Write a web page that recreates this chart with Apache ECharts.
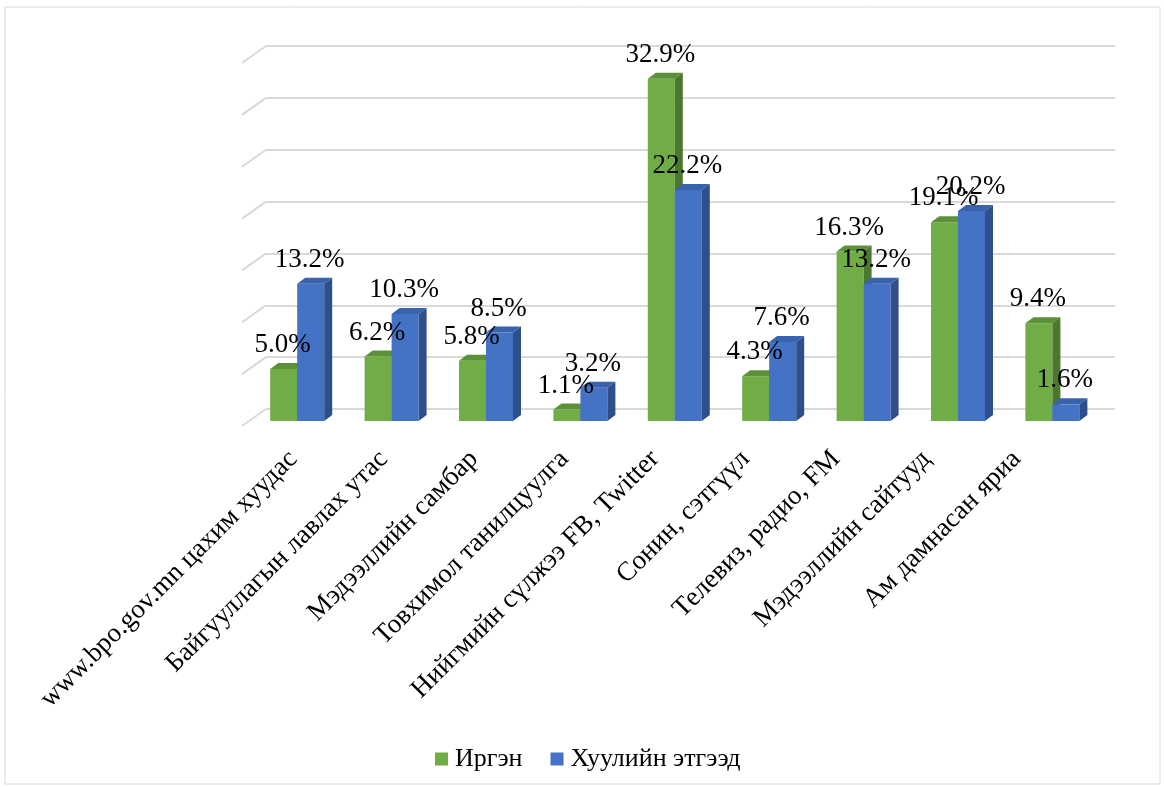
<!DOCTYPE html>
<html>
<head>
<meta charset="utf-8">
<script src="https://cdn.jsdelivr.net/npm/echarts@6/dist/echarts.min.js"></script>
<style>
  html, body { margin: 0; padding: 0; background: #fff; }
  #chart { width: 1164px; height: 787px; }
</style>
</head>
<body>
<div id="chart"></div>
<script>
// Information sources, share of respondents (%)
const categories = [
  'www.bpo.gov.mn цахим хуудас',
  'Байгууллагын лавлах утас',
  'Мэдээллийн самбар',
  'Товхимол танилцуулга',
  'Нийгмийн сүлжээ FB, Twitter',
  'Сонин, сэтгүүл',
  'Телевиз, радио, FM',
  'Мэдээллийн сайтууд',
  'Ам дамнасан яриа'
];
const seriesNames = ['Иргэн', 'Хуулийн этгээд'];
const citizen = [5.0, 6.2, 5.8, 1.1, 32.9, 4.3, 16.3, 19.1, 9.4];
const legalEntity = [13.2, 10.3, 8.5, 3.2, 22.2, 7.6, 13.2, 20.2, 1.6];
const wallTicks = [0, 5, 10, 15, 20, 25, 30, 35];

const SERIF = '"Liberation Serif", "Times New Roman", serif';
const DEPTH_X = 8, DEPTH_Y = 6;

const palette = {
  green: { front: '#70ad47', top: '#5d9139', side: '#4b772e' },
  blue:  { front: '#4472c4', top: '#3962ad', side: '#2e4f8c' }
};

function barGeom(api, side) {
  const idx = api.value(0);
  const v = api.value(1);
  const base = api.coord([idx, 0]);
  const top = api.coord([idx, v]);
  const band = api.size([1, 0])[0];
  const w = band * 0.286;
  const x0 = side === 0 ? base[0] - w : base[0];
  return { x0: x0, x1: x0 + w, yb: base[1], yt: top[1], v: v };
}

function barRenderer(side, c) {
  return function (params, api) {
    const g = barGeom(api, side);
    return {
      type: 'group',
      children: [
        { type: 'rect', shape: { x: g.x0, y: g.yt, width: g.x1 - g.x0, height: g.yb - g.yt },
          style: { fill: c.front } },
        { type: 'polygon', shape: { points: [[g.x0, g.yt], [g.x0 + DEPTH_X, g.yt - DEPTH_Y],
            [g.x1 + DEPTH_X, g.yt - DEPTH_Y], [g.x1, g.yt]] }, style: { fill: c.top } },
        { type: 'polygon', shape: { points: [[g.x1, g.yt], [g.x1 + DEPTH_X, g.yt - DEPTH_Y],
            [g.x1 + DEPTH_X, g.yb - DEPTH_Y], [g.x1, g.yb]] }, style: { fill: c.side } }
      ]
    };
  };
}

function labelRenderer(side) {
  return function (params, api) {
    const g = barGeom(api, side);
    return {
      type: 'text',
      style: {
        text: g.v.toFixed(1) + '%',
        x: (g.x0 + g.x1) / 2 - 1, y: g.yt - 24,
        align: 'center', verticalAlign: 'middle',
        font: '27px ' + SERIF, fill: '#000'
      }
    };
  };
}

const toData = arr => arr.map((v, i) => [i, v]);

const chart = echarts.init(document.getElementById('chart'), null, { renderer: 'canvas' });

chart.setOption({
  backgroundColor: '#fff',
  animation: false,
  graphic: [{
    type: 'rect', shape: { x: 5, y: 7, width: 1155, height: 777 },
    style: { fill: 'none', stroke: '#d9d9d9', lineWidth: 1 }, silent: true, z: 0
  }],
  legend: {
    data: seriesNames,
    left: 435, top: 746, padding: 0,
    icon: 'rect', itemWidth: 13, itemHeight: 13, itemGap: 28,
    textStyle: { fontFamily: SERIF, fontSize: 26, color: '#000', padding: [0, 0, 0, 2] }
  },
  grid: [
    // back wall
    { left: 266, right: 49, top: 46, height: 363 },
    // front plane of the bars
    { left: 250, right: 64.4, top: 57, height: 364 },
    // category labels along the floor edge
    { left: 248, right: 102, top: 57, height: 364 }
  ],
  xAxis: [
    { gridIndex: 0, type: 'value', min: 0, max: 1, show: false },
    { gridIndex: 1, type: 'category', data: categories, show: false },
    { gridIndex: 2, type: 'category', data: categories,
      axisLine: { show: false }, axisTick: { show: false },
      axisLabel: { rotate: 45, margin: 34, interval: 0, fontFamily: SERIF, fontSize: 27, color: '#000' } }
  ],
  yAxis: [
    { gridIndex: 0, type: 'value', min: 0, max: 35, interval: 5,
      axisLine: { show: false }, axisTick: { show: false }, axisLabel: { show: false },
      splitLine: { lineStyle: { color: '#d9d9d9', width: 2 } } },
    { gridIndex: 1, type: 'value', min: 0, max: 35, interval: 5, show: false, splitLine: { show: false } },
    { gridIndex: 2, type: 'value', min: 0, max: 35, show: false, splitLine: { show: false } }
  ],
  series: [
    {
      // slanted floor edges of the wall gridlines
      type: 'custom', name: 'wall', xAxisIndex: 0, yAxisIndex: 0, silent: true, z: 1,
      data: wallTicks.map(v => [0, v]),
      renderItem: function (params, api) {
        const p = api.coord([0, api.value(1)]);
        return { type: 'line', shape: { x1: p[0], y1: p[1], x2: p[0] - 24, y2: p[1] + 17 },
          style: { stroke: '#d9d9d9', lineWidth: 2 } };
      }
    },
    {
      type: 'custom', name: seriesNames[0], xAxisIndex: 1, yAxisIndex: 1, z: 2,
      itemStyle: { color: palette.green.front },
      data: toData(citizen), renderItem: barRenderer(0, palette.green)
    },
    {
      type: 'custom', name: seriesNames[1], xAxisIndex: 1, yAxisIndex: 1, z: 2,
      itemStyle: { color: palette.blue.front },
      data: toData(legalEntity), renderItem: barRenderer(1, palette.blue)
    },
    {
      type: 'custom', name: 'citizenLabels', xAxisIndex: 1, yAxisIndex: 1, z: 5, silent: true,
      data: toData(citizen), renderItem: labelRenderer(0)
    },
    {
      type: 'custom', name: 'legalLabels', xAxisIndex: 1, yAxisIndex: 1, z: 5, silent: true,
      data: toData(legalEntity), renderItem: labelRenderer(1)
    }
  ]
});
</script>
</body>
</html>
